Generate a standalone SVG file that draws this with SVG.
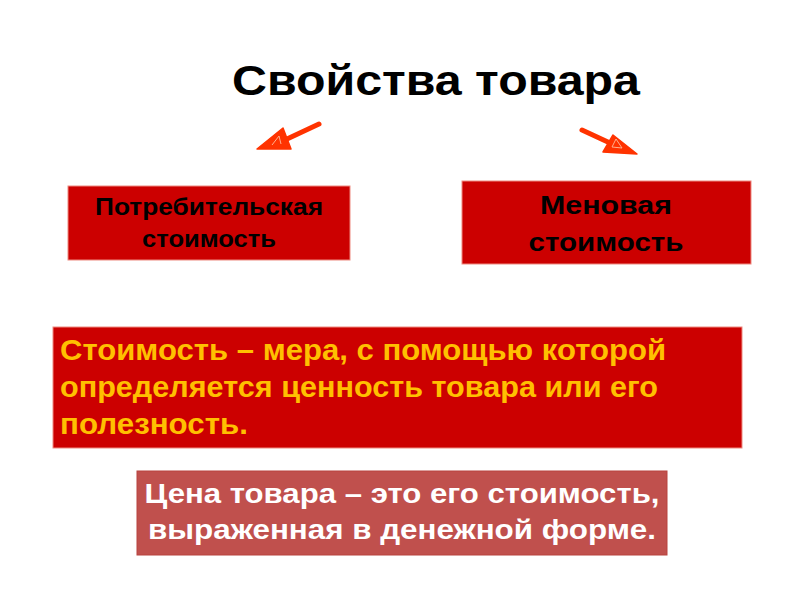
<svg xmlns="http://www.w3.org/2000/svg" width="800" height="600" viewBox="0 0 800 600">
<defs>
<style>
text{font-family:"Liberation Sans",Arial,sans-serif;font-weight:bold}
.box{fill:#CC0000;stroke:#EE8A80;stroke-width:1}
.arr{fill:none;stroke:#FF3300;stroke-width:5;stroke-linecap:round}
.head{fill:#FF3300;stroke:#FF3300;stroke-width:1.5;stroke-linejoin:round}
.hl{fill:none;stroke:#FFB08F;stroke-width:1}
</style>
</defs>
<rect width="800" height="600" fill="#FFFFFF"/>
<g id="title">
<text x="436" y="95" font-size="42" text-anchor="middle" fill="#000" textLength="408" lengthAdjust="spacingAndGlyphs">Свойства товара</text>
</g>
<g id="connectors">
<line class="arr" x1="319" y1="124" x2="287" y2="139"/>
<polygon class="head" points="257,149 283,128 291,149"/>
<polyline class="hl" points="272,145 279,136 281,144"/>
<line class="arr" x1="582" y1="130" x2="610" y2="143"/>
<polygon class="head" points="637,154 613,135 603,152"/>
<polyline class="hl" points="612,147 616,139 622,148 612,147"/>
</g>
<g id="node-use-value">
<rect class="box" x="68" y="186" width="282" height="74"/>
<text x="209" y="215" font-size="23" text-anchor="middle" fill="#000" textLength="228" lengthAdjust="spacingAndGlyphs">Потребительская</text>
<text x="209" y="247" font-size="23" text-anchor="middle" fill="#000" textLength="134" lengthAdjust="spacingAndGlyphs">стоимость</text>
</g>
<g id="node-exchange-value">
<rect class="box" x="462" y="181" width="289" height="83"/>
<text x="606" y="214" font-size="25" text-anchor="middle" fill="#000" textLength="132" lengthAdjust="spacingAndGlyphs">Меновая</text>
<text x="606" y="251" font-size="25" text-anchor="middle" fill="#000" textLength="155" lengthAdjust="spacingAndGlyphs">стоимость</text>
</g>
<g id="node-definition">
<rect class="box" x="53" y="327" width="689" height="121"/>
<text x="60" y="360" font-size="30" fill="#FFC000" textLength="606" lengthAdjust="spacingAndGlyphs">Стоимость – мера, с помощью которой</text>
<text x="60" y="397" font-size="30" fill="#FFC000" textLength="598" lengthAdjust="spacingAndGlyphs">определяется ценность товара или его</text>
<text x="60" y="434" font-size="30" fill="#FFC000" textLength="188" lengthAdjust="spacingAndGlyphs">полезность.</text>
</g>
<g id="node-price">
<rect x="137" y="471" width="530" height="84" fill="#C0504D" stroke="#B8433F" stroke-width="1"/>
<text x="402" y="503" font-size="27" text-anchor="middle" fill="#FFFFFF" textLength="515" lengthAdjust="spacingAndGlyphs">Цена товара – это его стоимость,</text>
<text x="402" y="539" font-size="27" text-anchor="middle" fill="#FFFFFF" textLength="508" lengthAdjust="spacingAndGlyphs">выраженная в денежной форме.</text>
</g>
</svg>
